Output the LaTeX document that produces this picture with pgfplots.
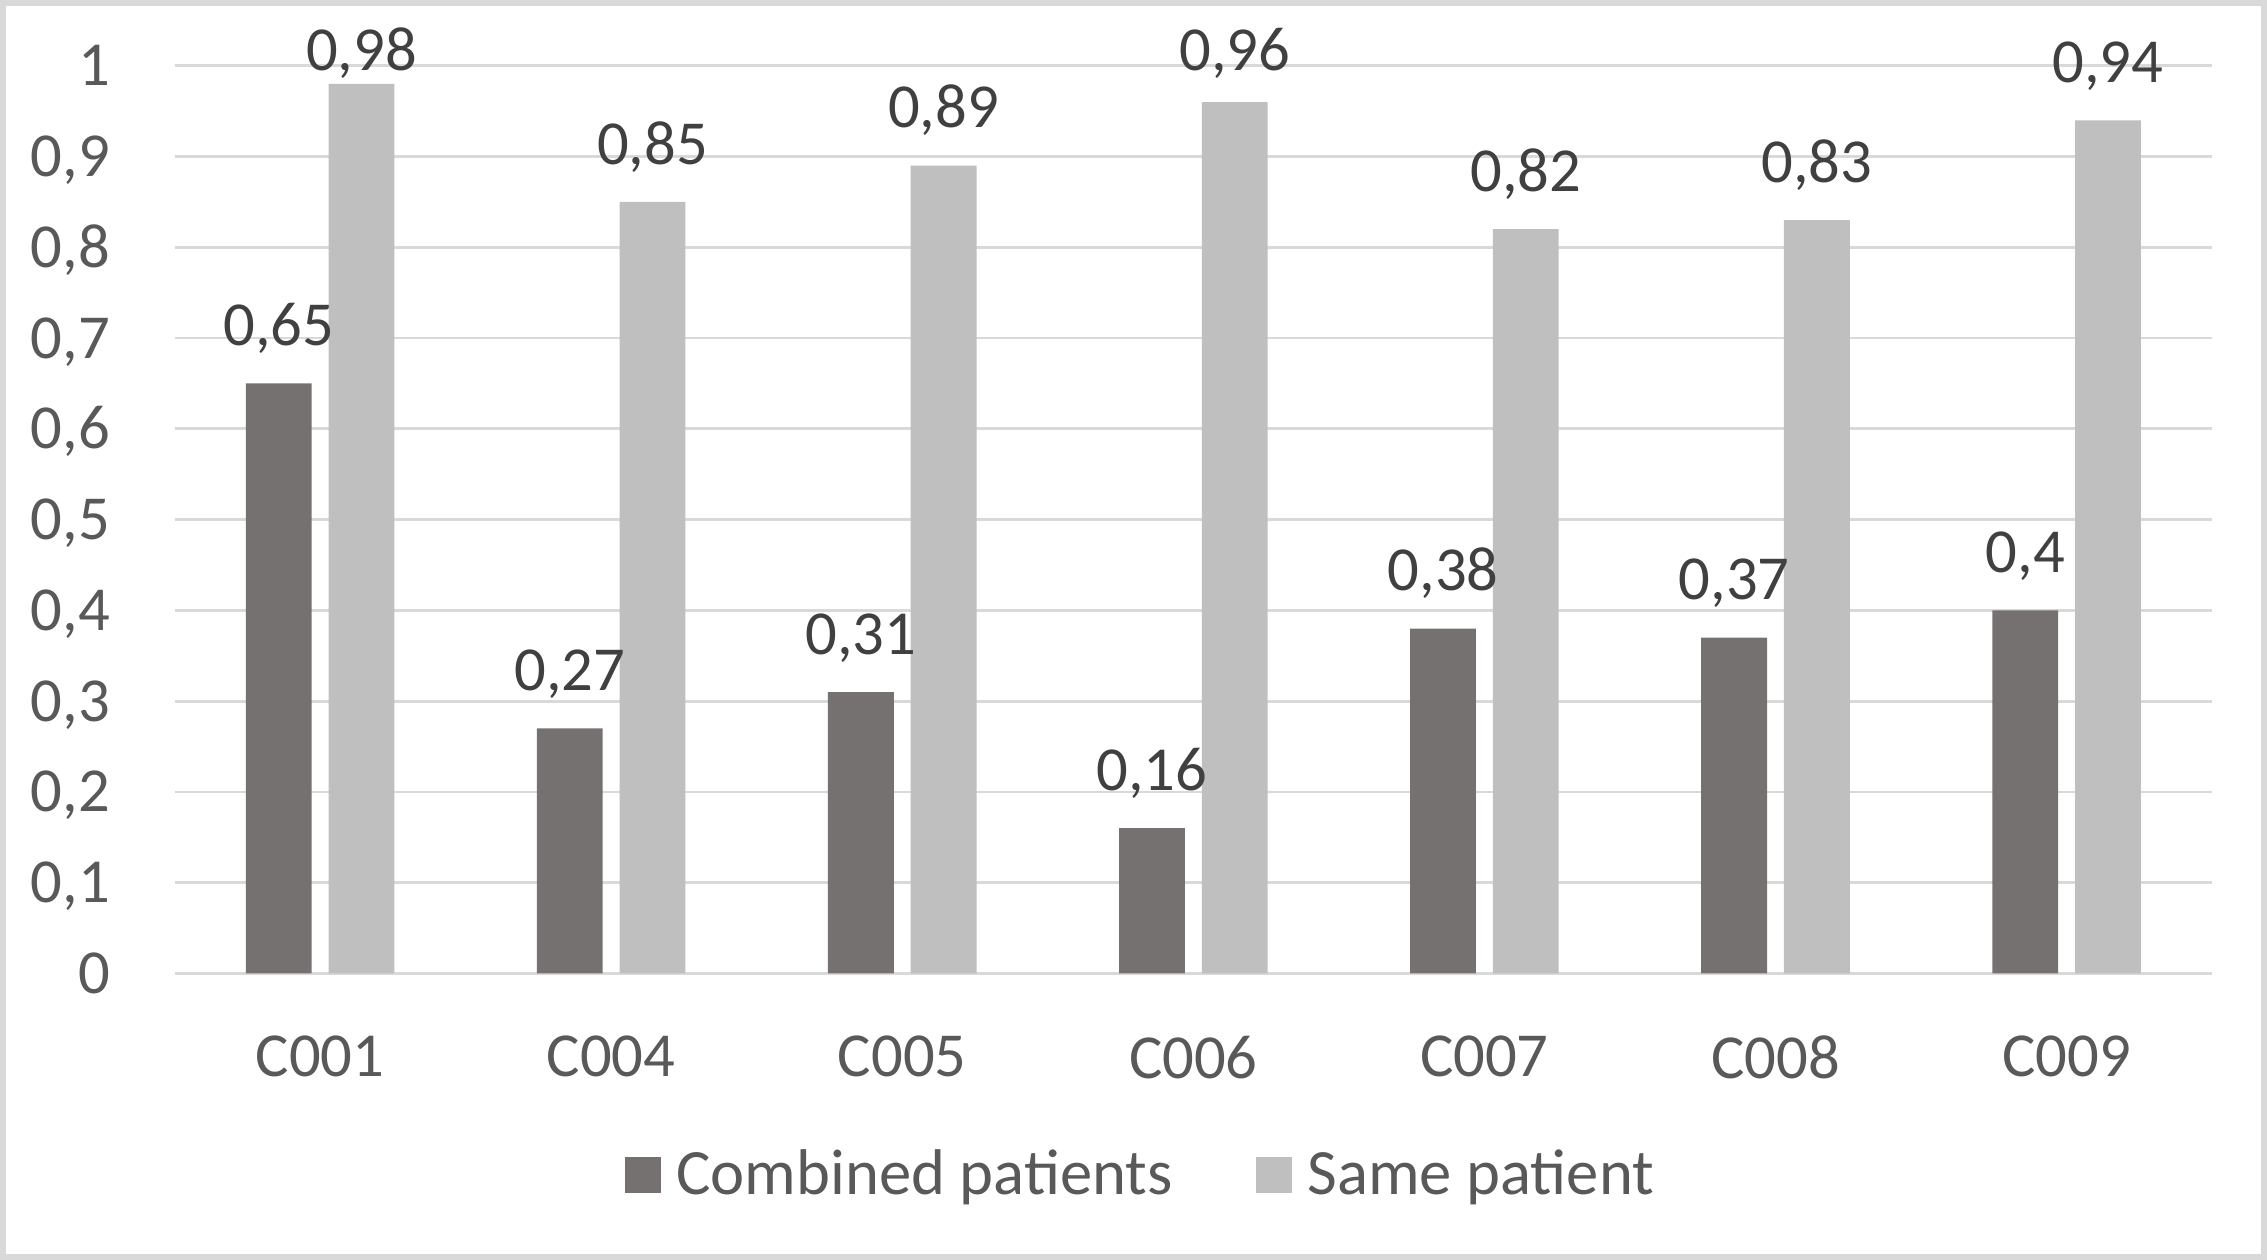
\documentclass[border=0pt]{standalone}
\usepackage{pgfplots}
\usepackage{pgfplotstable}
\pgfplotsset{compat=1.18}
\usepackage{fontspec}
\setmainfont{Carlito}

\definecolor{combined}{HTML}{767171}
\definecolor{same}{HTML}{BFBFBF}
\definecolor{gridgray}{HTML}{D9D9D9}
\definecolor{ticktext}{HTML}{595959}
\definecolor{labeltext}{HTML}{404040}

% bar heights
\pgfplotstableread{
x comb same
0 0.65 0.98
1 0.27 0.85
2 0.31 0.89
3 0.16 0.96
4 0.38 0.82
5 0.37 0.83
6 0.40 0.94
}\bars

% data labels (the two highest ones are kept inside the chart)
\pgfplotstableread{
x comb combtxt samepos sametxt
0 0.65 0,65 0.953 0,98
1 0.27 0,27 0.85  0,85
2 0.31 0,31 0.89  0,89
3 0.16 0,16 0.953 0,96
4 0.38 0,38 0.82  0,82
5 0.37 0,37 0.83  0,83
6 0.40 0,4  0.94  0,94
}\labels

\begin{document}
\begin{tikzpicture}[font=\fontsize{15.7}{18.8}\selectfont]
\begin{axis}[
    scale only axis,
    width=510.75pt, height=227.5pt,
    ybar, bar width=16.5pt,
    xmin=-0.5, xmax=6.5,
    ymin=0, ymax=1,
    xtick={0,...,6},
    xticklabels={C001,C004,C005,C006,C007,C008,C009},
    ytick={0,0.1,0.2,0.3,0.4,0.5,0.6,0.7,0.8,0.9,1},
    yticklabel style={/pgf/number format/.cd, use comma, fixed, precision=1, assume math mode=true,
        /tikz/.cd, anchor=base east, inner sep=0pt, xshift=-16pt, yshift=-5pt, text=ticktext},
    xticklabel style={anchor=north, inner sep=0pt, yshift=-15.5pt, text=ticktext},
    axis line style={draw=none},
    major tick length=0pt,
    ymajorgrids,
    grid style={gridgray, line width=0.7pt},
    legend columns=2,
    legend style={at={(0.2208,-0.2225)}, anchor=west, draw=none, inner sep=0pt,
        text=ticktext, font=\fontsize{16.2}{19.4}\selectfont, nodes={inner sep=0pt},
        /tikz/every odd column/.append style={column sep=3.8pt},
        /tikz/every even column/.append style={column sep=21pt}},
    legend image code/.code={\fill[#1] (0pt,-4.5pt) rectangle (9pt,4.5pt);},
    nodes near coords style={anchor=base, inner sep=0pt, yshift=9.5pt, text=labeltext},
]
\addplot[fill=combined, draw=none, bar shift=-10.375pt] table[x=x, y=comb] {\bars};
\addlegendentry{Combined patients}
\addplot[fill=same, draw=none, bar shift=10.375pt] table[x=x, y=same] {\bars};
\addlegendentry{Same patient}

\addplot[draw=none, fill=none, bar shift=-10.375pt, forget plot,
    nodes near coords, point meta=explicit symbolic]
    table[x=x, y=comb, meta=combtxt] {\labels};
\addplot[draw=none, fill=none, bar shift=10.375pt, forget plot,
    nodes near coords, point meta=explicit symbolic]
    table[x=x, y=samepos, meta=sametxt] {\labels};

\coordinate (o) at (rel axis cs:0,0);
\end{axis}
\draw[gridgray, line width=1.5pt] ([shift={(-43pt,-71pt)}]o) rectangle ++(566.75pt,314.25pt);
\end{tikzpicture}
\end{document}
